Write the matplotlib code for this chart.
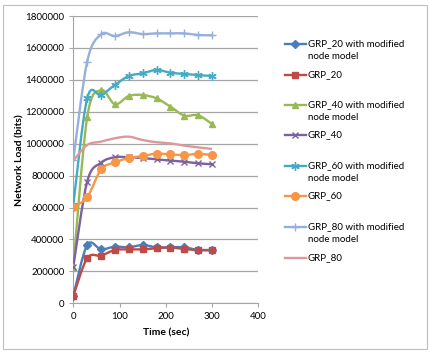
import numpy as np
import matplotlib.pyplot as plt
from matplotlib.path import Path
from matplotlib.patches import PathPatch, Rectangle
from matplotlib.lines import Line2D

plt.rcParams["font.family"] = ["Lato", "DejaVu Sans"]

time = [0, 30, 60, 90, 120, 150, 180, 210, 240, 270, 300]

grp20_mod = [46000, 365000, 338000, 355000, 351000, 365000, 351000, 351000, 351000, 334000, 334000]
grp20 = [46000, 282000, 299000, 334000, 338000, 338000, 345000, 349000, 340000, 334000, 334000]
grp40_mod = [230000, 1165000, 1336000, 1247000, 1299000, 1305000, 1284000, 1232000, 1176000, 1178000, 1123000]
grp40 = [230000, 762000, 881000, 915000, 915000, 910000, 902000, 894000, 887000, 877000, 871000]
grp60_mod = [616000, 1284000, 1305000, 1368000, 1424000, 1441000, 1462000, 1445000, 1437000, 1430000, 1424000]
grp60 = [606000, 664000, 839000, 883000, 910000, 923000, 938000, 933000, 929000, 936000, 929000]
grp80_mod = [898000, 1514000, 1685000, 1675000, 1698000, 1687000, 1691000, 1691000, 1691000, 1681000, 1679000]
grp80 = [894000, 992000, 1013000, 1034000, 1044000, 1023000, 1009000, 1002000, 988000, 977000, 967000]

labels = ["GRP_20 with modified\nnode model", "GRP_20",
          "GRP_40 with modified\nnode model", "GRP_40",
          "GRP_60 with modified\nnode model", "GRP_60",
          "GRP_80 with modified\nnode model", "GRP_80"]
series = [grp20_mod, grp20, grp40_mod, grp40, grp60_mod, grp60, grp80_mod, grp80]
colors = ["#4A7EBB", "#BE4B48", "#98B954", "#7D60A0", "#46AAC5", "#F79646", "#95B0DB", "#DB9A98"]
markers = ["D", "s", "^", "x", (6, 2, 0), "o", "+", None]
msizes = [4, 5, 5, 5, 6, 5.5, 6, 0]


def smooth_path(x, y, k=1 / 6):
    # excel-style smoothed line through the points (cubic bezier)
    pts = np.column_stack([x, y]).astype(float)
    n = len(pts)
    verts = [pts[0]]
    codes = [Path.MOVETO]
    for i in range(n - 1):
        p0 = pts[max(i - 1, 0)]
        p1 = pts[i]
        p2 = pts[i + 1]
        p3 = pts[min(i + 2, n - 1)]
        c1 = p1 + (p2 - p0) * k
        c2 = p2 - (p3 - p1) * k
        verts += [c1, c2, p2]
        codes += [Path.CURVE4] * 3
    return Path(verts, codes)


fig = plt.figure(figsize=(4.31, 3.59), dpi=100)
fig.add_artist(Rectangle((3 / 431, 1 - 349 / 359), 424 / 431, 344 / 359,
                         transform=fig.transFigure, fill=False, ec="#BFBFBF", lw=0.8))

ax = fig.add_axes([73.3 / 431, 1 - 303.3 / 359, 185 / 431, 287.3 / 359])

for vals, c, m, ms in zip(series, colors, markers, msizes):
    ax.add_patch(PathPatch(smooth_path(time, vals), fill=False, ec=c, lw=1.7, zorder=3))
    if m is not None:
        ax.plot(time, vals, linestyle="none", marker=m, color=c, markersize=ms,
                markeredgewidth=1.0, zorder=4)

ax.set_xlim(0, 400)
ax.set_ylim(0, 1800000)
ax.set_xticks([0, 100, 200, 300, 400])
ax.set_yticks(np.arange(0, 1800001, 200000))
ax.set_yticklabels([str(v) for v in range(0, 1800001, 200000)])
ax.grid(axis="y", color="#A6A6A6", lw=0.9)
ax.set_axisbelow(True)
for s in ["top", "right"]:
    ax.spines[s].set_visible(False)
for s in ["left", "bottom"]:
    ax.spines[s].set_color("#A6A6A6")
ax.tick_params(colors="#A6A6A6", labelcolor="black", labelsize=7, length=3, width=0.8)
ax.set_xlabel("Time (sec)", fontsize=7.5, fontweight="bold")
ax.set_ylabel("Network Load (bits)", fontsize=7.5, fontweight="bold")
ax.xaxis.set_label_coords(0.5, -0.086)
ax.yaxis.set_label_coords(-0.264, 0.5)
ax.margins(0)

# legend drawn by hand to match excel spacing
first_line_y = [44, 75, 105, 135, 166, 196, 227, 258]
for lab, c, m, ms, yy in zip(labels, colors, markers, msizes, first_line_y):
    yf = 1 - yy / 359
    fig.add_artist(Line2D([285 / 431, 306 / 431], [yf, yf], transform=fig.transFigure,
                          color=c, lw=1.7))
    if m is not None:
        fig.add_artist(Line2D([295.5 / 431], [yf], transform=fig.transFigure, color=c,
                              marker=m, markersize=ms, markeredgewidth=1.0, linestyle="none"))
    for j, line in enumerate(lab.split("\n")):
        fig.text(308 / 431, 1 - (yy + 12.5 * j) / 359, line, fontsize=7, va="center", ha="left")

fig.savefig("out.png", dpi=100)
